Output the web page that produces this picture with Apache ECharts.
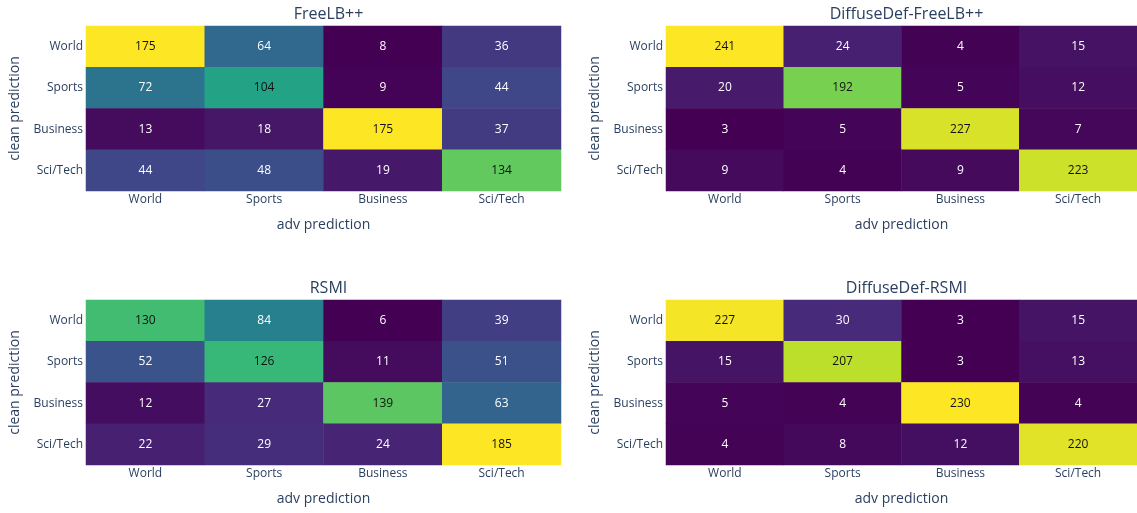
<!DOCTYPE html>
<html>
<head>
<meta charset="utf-8">
<script src="https://cdn.jsdelivr.net/npm/echarts@6/dist/echarts.min.js"></script>
<style>html,body{margin:0;padding:0;background:#fff;}#c{width:1137px;height:513px;}</style>
</head>
<body>
<div id="c"></div>
<script>
const categories = ['World', 'Sports', 'Business', 'Sci/Tech'];
const titles = ['FreeLB++', 'DiffuseDef-FreeLB++', 'RSMI', 'DiffuseDef-RSMI'];
// rows = clean prediction (World..Sci/Tech), cols = adv prediction
const freelb = [
  [175, 64, 8, 36],
  [72, 104, 9, 44],
  [13, 18, 175, 37],
  [44, 48, 19, 134]
];
const diffuseFreelb = [
  [241, 24, 4, 15],
  [20, 192, 5, 12],
  [3, 5, 227, 7],
  [9, 4, 9, 223]
];
const rsmi = [
  [130, 84, 6, 39],
  [52, 126, 11, 51],
  [12, 27, 139, 63],
  [22, 29, 24, 185]
];
const diffuseRsmi = [
  [227, 30, 3, 15],
  [15, 207, 3, 13],
  [5, 4, 230, 4],
  [4, 8, 12, 220]
];
const matrices = [freelb, diffuseFreelb, rsmi, diffuseRsmi];

const viridis = ['#440154', '#482878', '#3e4989', '#31688e', '#26828e', '#1f9e89', '#35b779', '#6ece58', '#b5de2b', '#fde725'];
const textColor = '#2a3f5f';
const font = '"Open Sans", "Noto Sans", sans-serif';

const grids = [
  { left: 86, top: 26, width: 475, height: 165 },
  { left: 666, top: 26, width: 471, height: 165 },
  { left: 86, top: 300, width: 475, height: 165 },
  { left: 666, top: 300, width: 471, height: 165 }
];

const option = {
  animation: false,
  backgroundColor: '#fff',
  textStyle: { fontFamily: font },
  title: [],
  grid: [],
  xAxis: [],
  yAxis: [],
  visualMap: [],
  series: []
};

matrices.forEach((m, i) => {
  const g = grids[i];
  let flat = [];
  m.forEach(r => r.forEach(v => flat.push(v)));
  const mn = Math.min(...flat), mx = Math.max(...flat);
  option.title.push({
    text: titles[i],
    left: g.left + g.width / 2,
    top: g.top - 25,
    textAlign: 'center',
    textStyle: { fontSize: 16, fontWeight: 'normal', color: textColor, fontFamily: font }
  });
  option.grid.push({ left: g.left, top: g.top, width: g.width, height: g.height, containLabel: false });
  option.xAxis.push({
    type: 'category', gridIndex: i, data: categories,
    name: 'adv prediction', nameLocation: 'middle', nameGap: 27,
    nameTextStyle: { fontSize: 14, color: textColor, fontFamily: font },
    axisLine: { show: false }, axisTick: { show: false }, splitLine: { show: false },
    axisLabel: { fontSize: 12, color: textColor, margin: 3, fontFamily: font }
  });
  option.yAxis.push({
    type: 'category', gridIndex: i, data: categories, inverse: true,
    name: 'clean prediction', nameLocation: 'middle', nameGap: 64, nameRotate: 90,
    nameTextStyle: { fontSize: 14, color: textColor, fontFamily: font },
    axisLine: { show: false }, axisTick: { show: false }, splitLine: { show: false },
    axisLabel: { fontSize: 12, color: textColor, margin: 3, fontFamily: font }
  });
  option.visualMap.push({
    show: false, type: 'continuous', seriesIndex: i, dimension: 2,
    min: mn, max: mx, inRange: { color: viridis }
  });
  const data = [];
  m.forEach((row, r) => row.forEach((v, c) => {
    const t = (v - mn) / (mx - mn);
    data.push({ value: [c, r, v], label: { color: t > 0.5 ? '#111' : '#fff' } });
  }));
  option.series.push({
    type: 'heatmap', xAxisIndex: i, yAxisIndex: i, data: data,
    label: { show: true, fontSize: 12, fontFamily: font },
    itemStyle: { borderWidth: 0 },
    emphasis: { disabled: true }
  });
});

const chart = echarts.init(document.getElementById('c'), null, { renderer: 'canvas' });
chart.setOption(option);
</script>
</body>
</html>
